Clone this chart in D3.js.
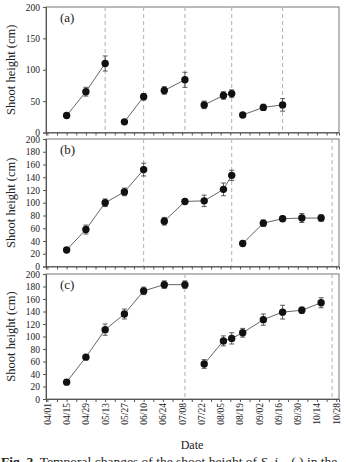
<!DOCTYPE html>
<html>
<head>
<meta charset="utf-8">
<script src="https://cdn.jsdelivr.net/npm/d3@7"></script>
<style>
  body { margin: 0; background: #fff; }
  svg text { font-family: "Liberation Serif", "DejaVu Serif", serif; fill: #222; }
</style>
</head>
<body>
<div id="chart"></div>
<script>
// sampling dates (month/day), all same season
const dates = ["04/15", "04/29", "05/13", "05/27", "06/10", "06/25", "07/10", "07/24",
               "08/07", "08/13", "08/21", "09/05", "09/19", "10/03", "10/17"];
const xTicks = ["04/01", "04/15", "04/29", "05/13", "05/27", "06/10", "06/24", "07/08",
                "07/22", "08/05", "08/19", "09/02", "09/16", "09/30", "10/14", "10/28"];

// panel (a): segments of date indices, mean, sd
const aGroups = [[0, 1, 2], [3, 4], [5, 6], [7, 8, 9], [10, 11, 12]];
const aMean = [27, 65, 110, 17, 57, 67, 84, 44, 59, 62, 28, 40, 44];
const aErr  = [3, 7, 12, 2, 5, 6, 12, 6, 6, 6, 3, 5, 10];
const aCuts = ["05/13", "06/10", "07/10", "08/13", "09/19"];

const bGroups = [[0, 1, 2, 3, 4], [5, 6, 7, 8, 9], [10, 11, 12, 13, 14]];
const bMean = [26, 58, 100, 117, 152, 71, 102, 103, 121, 143, 36, 68, 75, 76, 76];
const bErr  = [2, 7, 6, 6, 10, 6, 2, 9, 10, 8, 2, 5, 4, 7, 5];
const bCuts = ["06/10", "08/13", "10/25"];

const cGroups = [[0, 1, 2, 3, 4, 5, 6], [7, 8, 9, 10, 11, 12, 13, 14]];
const cMean = [27, 67, 111, 136, 173, 183, 183, 56, 93, 97, 106, 127, 139, 142, 154];
const cErr  = [2, 3, 9, 8, 6, 6, 6, 7, 8, 9, 7, 9, 11, 5, 8];
const cCuts = ["07/10", "10/25"];

const parse = s => d3.timeParse("%Y/%m/%d")("2015/" + s);

const svg = d3.select("#chart").append("svg")
  .attr("width", 346).attr("height", 462);

const x = d3.scaleTime()
  .domain([parse("03/31"), parse("10/30")])
  .range([46, 339]);

const panels = [
  { label: "(a)", top: 7, bottom: 132.5, ticks: [0, 50, 100, 150, 200], groups: aGroups, mean: aMean, err: aErr, cuts: aCuts },
  { label: "(b)", top: 139, bottom: 266.5, ticks: d3.range(0, 201, 20), groups: bGroups, mean: bMean, err: bErr, cuts: bCuts },
  { label: "(c)", top: 274, bottom: 399, ticks: d3.range(0, 201, 20), groups: cGroups, mean: cMean, err: cErr, cuts: cCuts }
];

panels.forEach(function(p) {
  let y = d3.scaleLinear().domain([0, 200]).range([p.bottom, p.top]);
  let g = svg.append("g");

  // frame
  g.append("rect")
    .attr("x", 46).attr("y", p.top)
    .attr("width", 339 - 46).attr("height", p.bottom - p.top)
    .attr("fill", "none").attr("stroke", "#777").attr("stroke-width", 1);

  // harvest lines
  g.selectAll("line.cut").data(p.cuts).enter().append("line")
    .attr("class", "cut")
    .attr("x1", d => x(parse(d))).attr("x2", d => x(parse(d)))
    .attr("y1", p.top).attr("y2", p.bottom)
    .attr("stroke", "#b0b0b0").attr("stroke-dasharray", "4,3").attr("stroke-width", 1);

  // y axis
  let ya = g.append("g")
    .attr("transform", "translate(46,0)")
    .call(d3.axisLeft(y).tickValues(p.ticks).tickSize(3).tickPadding(3));
  ya.select(".domain").attr("stroke", "#555");
  ya.selectAll(".tick line").attr("stroke", "#555");
  ya.selectAll("text").style("font-size", "9.5px").style("font-family", "Liberation Serif");

  // x axis weekly ticks
  let xa = g.append("g")
    .attr("transform", "translate(0," + p.bottom + ")")
    .call(d3.axisBottom(x).tickValues(d3.timeDay.range(parse("04/01"), parse("10/29"), 7))
      .tickSize(3).tickFormat(""));
  xa.select(".domain").attr("stroke", "#555");
  xa.selectAll(".tick line").attr("stroke", "#555");

  g.append("text")
    .attr("x", 60).attr("y", p.top + 15)
    .style("font-size", "13px")
    .text(p.label);

  g.append("text")
    .attr("transform", "translate(15," + ((p.top + p.bottom) / 2) + ") rotate(-90)")
    .attr("text-anchor", "middle")
    .style("font-size", "12.5px")
    .text("Shoot height (cm)");

  let flat = p.groups.flat();

  let line = d3.line()
    .x(i => x(parse(dates[i])))
    .y(i => y(p.mean[flat.indexOf(i)]));

  p.groups.forEach(function(grp) {
    g.append("path")
      .attr("d", line(grp))
      .attr("fill", "none").attr("stroke", "#666").attr("stroke-width", 1);
  });

  let pts = g.selectAll("g.pt").data(flat).enter().append("g").attr("class", "pt");
  pts.each(function(i, k) {
    let cx = x(parse(dates[i]));
    let m = p.mean[k], e = p.err[k];
    let s = d3.select(this);
    s.append("line").attr("x1", cx).attr("x2", cx).attr("y1", y(m - e)).attr("y2", y(m + e))
      .attr("stroke", "#333").attr("stroke-width", 0.8);
    [m - e, m + e].forEach(v => s.append("line")
      .attr("x1", cx - 2.5).attr("x2", cx + 2.5).attr("y1", y(v)).attr("y2", y(v))
      .attr("stroke", "#333").attr("stroke-width", 0.8));
    s.append("circle").attr("cx", cx).attr("cy", y(m)).attr("r", 3.7).attr("fill", "#111");
  });
});

// date labels, rotated
svg.selectAll("text.xl").data(xTicks).enter().append("text")
  .attr("class", "xl")
  .attr("transform", d => "translate(" + (x(parse(d)) + 3.5) + ",403) rotate(-90)")
  .attr("text-anchor", "end")
  .style("font-size", "9.5px")
  .text(d => d);

svg.append("text")
  .attr("x", 192).attr("y", 449)
  .attr("text-anchor", "middle")
  .style("font-size", "12px")
  .text("Date");

let cap = svg.append("text").attr("x", 1).attr("y", 466).style("font-size", "13.5px");
cap.append("tspan").style("font-weight", "bold").text("Fig. 2.");
cap.append("tspan").text("  Temporal changes of the shoot height of ");
cap.append("tspan").style("font-style", "italic").text("S. j");
cap.append("tspan").text("...  (  ) in the");
</script>
</body>
</html>
